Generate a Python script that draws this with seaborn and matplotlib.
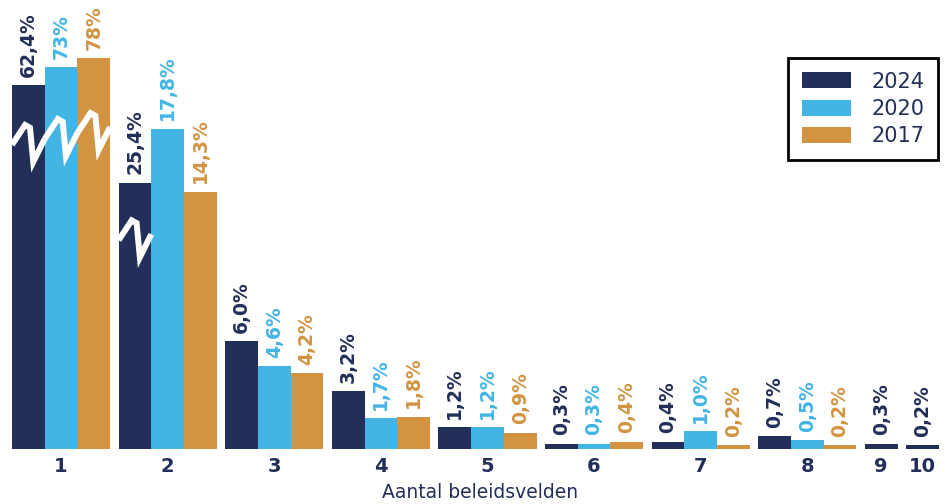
import numpy as np
import pandas as pd
import matplotlib
matplotlib.use("Agg")
import matplotlib.pyplot as plt
from matplotlib.patches import Patch
import seaborn as sns

# aantal beleidsvelden
categories = ["1", "2", "3", "4", "5", "6", "7", "8", "9", "10"]
years = ["2024", "2020", "2017"]
v2024 = [62.4, 25.4, 6.0, 3.2, 1.2, 0.3, 0.4, 0.7, 0.3, 0.2]
v2020 = [73, 17.8, 4.6, 1.7, 1.2, 0.3, 1.0, 0.5, None, None]
v2017 = [78, 14.3, 4.2, 1.8, 0.9, 0.4, 0.2, 0.2, None, None]

# bars with an axis break: height as drawn (in % units of the linear part)
broken_height = {("1", "2024"): 20.2, ("1", "2020"): 21.2, ("1", "2017"): 21.7,
                 ("2", "2024"): 14.8}
# level where the zigzag starts for each broken group
break_level = {"1": 16.9, "2": 11.6}

colors = {"2024": "#212F59", "2020": "#42B5E5", "2017": "#D29442"}
navy = "#212F59"

series = {"2024": v2024, "2020": v2020, "2017": v2017}

gap = 0.26
rows = []
tick_pos = []
pos = 0.0
for i, cat in enumerate(categories):
    group = []
    for yr in years:
        v = series[yr][i]
        if v is None:
            continue
        shown = broken_height.get((cat, yr), v)
        txt = str(v) if isinstance(v, int) else f"{v:.1f}"
        rows.append({"pos": pos, "shown": shown, "year": yr, "cat": cat,
                     "label": txt.replace(".", ",") + "%"})
        group.append(pos)
        pos += 1
    tick_pos.append(np.mean(group))
    pos += gap
df = pd.DataFrame(rows)

sns.set_style("white")
plt.rcParams["font.family"] = ["DejaVu Sans"]

fig = plt.figure(figsize=(9.49, 5.04), dpi=100)
ax = fig.add_axes([0, 55 / 504, 1, 449 / 504])

sns.barplot(data=df, x="pos", y="shown", hue="year", hue_order=years,
            palette=colors, native_scale=True, dodge=False, width=1,
            errorbar=None, saturation=1, legend=False, linewidth=0, ax=ax)

# value labels
for _, r in df.iterrows():
    ax.annotate(r["label"], (r["pos"], r["shown"]), xytext=(0, 6),
                textcoords="offset points", rotation=90, ha="center",
                va="bottom", fontsize=13.5, fontweight="bold",
                color=colors[r["year"]])

# zigzag break marks
fx = np.array([0, 0.4, 0.55, 0.65, 1.0])
dy = np.array([0, 1.1, 0.95, -0.95, 0.33])
for cat, lvl in break_level.items():
    sub = df[df.apply(lambda r: r["cat"] == cat and (r["cat"], r["year"]) in broken_height, axis=1)]
    for _, r in sub.iterrows():
        ax.plot(r["pos"] - 0.5 + fx, lvl + dy, color="white", lw=4.3,
                solid_capstyle="butt", solid_joinstyle="miter", zorder=5)
        lvl += dy[-1]

ax.set_xlim(-0.5 - 12 / 32.7, -0.5 + (949 - 12) / 32.7)
ax.set_ylim(0, 449 / 18)
ax.set_xticks(tick_pos)
ax.set_xticklabels(categories, fontsize=14, fontweight="bold", color=navy)
ax.tick_params(axis="x", length=0, pad=6)
ax.set_yticks([])
ax.set_ylabel("")
ax.set_xlabel("Aantal beleidsvelden", fontsize=13.5, color=navy)
ax.xaxis.set_label_coords(480 / 949, -0.075)
for s in ax.spines.values():
    s.set_visible(False)

handles = [Patch(facecolor=colors[y], edgecolor="none") for y in years]
leg = ax.legend(handles, years, loc="upper right",
                bbox_to_anchor=(938 / 949, 1 - 58 / 449), borderaxespad=0,
                fontsize=15, handlelength=2.35, handleheight=0.8,
                handletextpad=1.0, labelspacing=0.35, borderpad=0.65,
                fancybox=False, framealpha=1)
leg.get_frame().set_edgecolor("black")
leg.get_frame().set_linewidth(2)
for t in leg.get_texts():
    t.set_color(navy)

fig.savefig("out.png", dpi=100)
